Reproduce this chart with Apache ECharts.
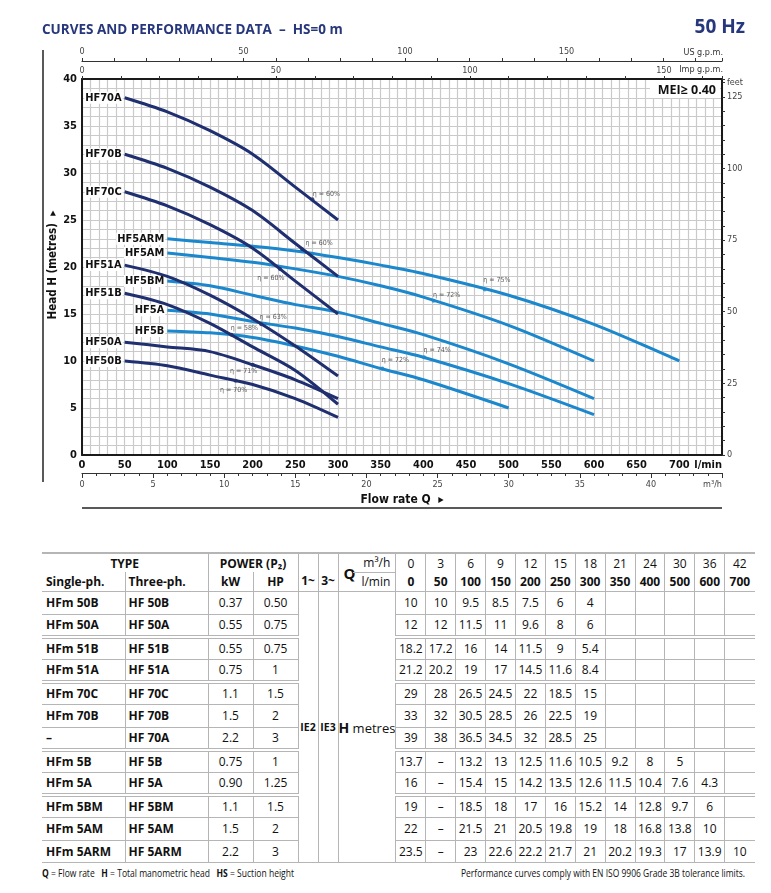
<!DOCTYPE html>
<html>
<head>
<meta charset="utf-8">
<script src="https://cdn.jsdelivr.net/npm/echarts@6/dist/echarts.min.js"></script>
<style>
html, body { margin: 0; padding: 0; background: #fff; }
body { width: 771px; height: 893px; position: relative; overflow: hidden; font-family: "Open Sans", sans-serif; color: #111; }
#chart { position: absolute; left: 0; top: 0; width: 771px; height: 530px; }
#perf { position: absolute; left: 42px; top: 552px; border-collapse: collapse; table-layout: fixed; font-size: 12px; }
#perf td { padding: 0; text-align: center; border: 1.5px solid #b5b5b5; white-space: nowrap; overflow: hidden; }
#perf tr.h1 { height: 19px; }
#perf tr.h2 { height: 19px; }
#perf tr.h1 td { border-top-width: 2px; }
#perf tr.h1 td.open { border-bottom-style: hidden; }
#perf tr.h2 td { border-top-style: hidden; }
#perf tbody tr { height: 22.6px; }
#perf tr.grp td { border-bottom: 4px double #b5b5b5; }
#perf td.first { border-left-style: hidden; text-align: left; padding-left: 4px; }
#perf td.center { text-align: center; padding-left: 0; }
#perf td.left { text-align: left; padding-left: 3px; }
#perf td.last { border-right-style: hidden; }
#perf .b { font-weight: bold; }
#perf td.ph { vertical-align: bottom; padding-bottom: 2px; font-weight: bold; }
#perf td.ie { font-weight: bold; font-size: 10.5px; }
#perf td.hm { font-size: 13px; }
#perf td.hm b { font-size: 14px; }
.qwrap { position: relative; height: 37px; }
.qQ { position: absolute; left: 5px; top: 9px; font-weight: bold; font-size: 15px; }
.qu { position: absolute; right: 5px; top: 0px; }
.ql { position: absolute; right: 5px; top: 19px; }
.qline { position: absolute; left: 14px; right: 0; top: 18px; border-top: 1.5px solid #b5b5b5; }
.foot { position: absolute; top: 866px; font-size: 10px; white-space: nowrap; transform-origin: left center; }
</style>
</head>
<body>
<div id="chart"></div>
<table id="perf"></table>
<div class="foot" id="footL"><b>Q</b> = Flow rate &nbsp; <b>H</b> = Total manometric head &nbsp; <b>HS</b> = Suction height</div>
<div class="foot" id="footR">Performance curves comply with EN ISO 9906 Grade 3B tolerance limits.</div>
<script>
// flow points of the table
var flowM3h = [0, 3, 6, 9, 12, 15, 18, 21, 24, 30, 36, 42]
var flowLmin = [0, 50, 100, 150, 200, 250, 300, 350, 400, 500, 600, 700]

var singlePh = ['HFm 50B', 'HFm 50A', 'HFm 51B', 'HFm 51A', 'HFm 70C', 'HFm 70B', '–', 'HFm 5B', 'HFm 5A', 'HFm 5BM', 'HFm 5AM', 'HFm 5ARM']
var threePh = ['HF 50B', 'HF 50A', 'HF 51B', 'HF 51A', 'HF 70C', 'HF 70B', 'HF 70A', 'HF 5B', 'HF 5A', 'HF 5BM', 'HF 5AM', 'HF 5ARM']
var powerKw = ['0.37', '0.55', '0.55', '0.75', '1.1', '1.5', '2.2', '0.75', '0.90', '1.1', '1.5', '2.2']
var powerHp = ['0.50', '0.75', '0.75', '1', '1.5', '2', '3', '1', '1.25', '1.5', '2', '3']
var family = ['50', '50', '51', '51', '70', '70', '70', '5', '5', '5', '5', '5']

// head (m) per model, one value per flow point, null = "–"
var headHF50B = [10, 10, 9.5, 8.5, 7.5, 6, 4]
var headHF50A = [12, 12, 11.5, 11, 9.6, 8, 6]
var headHF51B = [18.2, 17.2, 16, 14, 11.5, 9, 5.4]
var headHF51A = [21.2, 20.2, 19, 17, 14.5, 11.6, 8.4]
var headHF70C = [29, 28, 26.5, 24.5, 22, 18.5, 15]
var headHF70B = [33, 32, 30.5, 28.5, 26, 22.5, 19]
var headHF70A = [39, 38, 36.5, 34.5, 32, 28.5, 25]
var headHF5B = [13.7, null, 13.2, 13, 12.5, 11.6, 10.5, 9.2, 8, 5]
var headHF5A = [16, null, 15.4, 15, 14.2, 13.5, 12.6, 11.5, 10.4, 7.6, 4.3]
var headHF5BM = [19, null, 18.5, 18, 17, 16, 15.2, 14, 12.8, 9.7, 6]
var headHF5AM = [22, null, 21.5, 21, 20.5, 19.8, 19, 18, 16.8, 13.8, 10]
var headHF5ARM = [23.5, null, 23, 22.6, 22.2, 21.7, 21, 20.2, 19.3, 17, 13.9, 10]
var heads = [headHF50B, headHF50A, headHF51B, headHF51A, headHF70C, headHF70B, headHF70A,
  headHF5B, headHF5A, headHF5BM, headHF5AM, headHF5ARM]

// efficiency marks
var effModel = ['HF 70A', 'HF 70B', 'HF 70C', 'HF 51A', 'HF 51B', 'HF 50A', 'HF 50B', 'HF 5ARM', 'HF 5AM', 'HF 5A', 'HF 5B']
var effFlow = [270, 258, 232, 210, 175, 200, 180, 472, 412, 401, 352]
var effHead = [27.2, 21.9, 19.8, 13.9, 12.8, 9.6, 7.9, 17.6, 16.4, 10.4, 9.2]
var effValue = [60, 60, 60, 63, 58, 71, 70, 75, 72, 74, 72]
var effLabelOffset = [[14, -5], [17, -6], [-9, 9], [12, -7], [13, -6], [-9, 6], [-2, 9], [12, -9], [13, -6], [13, -7], [13, -8]]

var groupEnds = [1, 3, 6, 8]

var NAVY = '#1f2f6f'
var BLUE = '#1b87cd'
var NARROW = '"Liberation Sans Narrow","DejaVu Sans Condensed","Open Sans",sans-serif'
var LMIN_MAX = 750
var US_GPM = 3.785411784
var IMP_GPM = 4.54609
var M3H = 1000 / 60
var FT = 3.28084

function colorOf (model) {
  return family[threePh.indexOf(model)] === '5' ? BLUE : NAVY
}

// ---- chart ----
var series = []
var order = [7, 8, 9, 10, 11, 0, 1, 2, 3, 4, 5, 6]
order.forEach(function (m) {
  var name = threePh[m].replace(' ', '')
  var pts = []
  for (var i = 1; i < heads[m].length; i++) {
    if (heads[m][i] !== null) pts.push([flowLmin[i], heads[m][i]])
  }
  series.push({
    type: 'line',
    name: name,
    smooth: 0.3,
    symbol: 'circle',
    symbolSize: 0,
    showSymbol: true,
    lineStyle: { color: colorOf(threePh[m]), width: 3 },
    itemStyle: { color: colorOf(threePh[m]) },
    z: family[m] === '5' ? 3 : 4,
    data: pts.map(function (p, i) {
      if (i > 0) return p
      return {
        value: p,
        label: {
          show: true, position: 'left', distance: 2, formatter: name,
          fontFamily: NARROW, fontWeight: 'bold', fontSize: 11, color: '#111',
          backgroundColor: '#fff', padding: [1, 1, 0, 1]
        }
      }
    })
  })
})

series.push({
  type: 'scatter',
  symbol: 'circle',
  symbolSize: 4,
  z: 6,
  data: effModel.map(function (m, i) {
    return {
      value: [effFlow[i], effHead[i]],
      itemStyle: { color: colorOf(m) },
      label: {
        show: true, position: 'inside', offset: effLabelOffset[i],
        formatter: 'η = ' + effValue[i] + '%',
        fontFamily: NARROW, fontSize: 7, color: '#333'
      }
    }
  })
})

var gridLine = { color: '#cacaca', width: 1.2 }

var option = {
  animation: false,
  grid: { left: 82, top: 79, width: 640, height: 376, containLabel: false },
  xAxis: [
    {
      type: 'value', position: 'bottom', min: 0, max: LMIN_MAX, interval: 50,
      axisLine: { show: true, onZero: false, lineStyle: { color: '#1a1a1a', width: 2 } },
      axisTick: { show: false },
      axisLabel: {
        fontFamily: NARROW, fontWeight: 'bold', fontSize: 11, color: '#111', margin: 5,
        alignMaxLabel: 'right',
        formatter: function (v) { return v === LMIN_MAX ? 'l/min' : v }
      },
      splitLine: { show: true, lineStyle: gridLine },
      minorTick: { show: false, splitNumber: 5 },
      minorSplitLine: { show: true, lineStyle: gridLine }
    },
    {
      type: 'value', position: 'bottom', offset: 18, min: 0, max: LMIN_MAX / M3H, interval: 5,
      axisLine: { show: true, onZero: false, lineStyle: { color: '#333', width: 1.2 } },
      axisTick: { show: true, length: 5, lineStyle: { color: '#333' } },
      minorTick: { show: true, splitNumber: 5, length: 3, lineStyle: { color: '#333' } },
      axisLabel: {
        fontFamily: NARROW, fontSize: 9, color: '#444', margin: 7, alignMaxLabel: 'right',
        formatter: function (v) { return Math.round(v) === 45 ? 'm³/h' : v }
      },
      splitLine: { show: false }
    },
    {
      type: 'value', position: 'top', min: 0, max: LMIN_MAX / IMP_GPM, interval: 10,
      axisLine: { show: true, onZero: false, lineStyle: { color: '#1a1a1a', width: 2 } },
      axisTick: { show: true, length: 3, lineStyle: { color: '#333' } },
      axisLabel: {
        fontFamily: NARROW, fontSize: 9, color: '#444', margin: 4,
        formatter: function (v) { return v % 50 === 0 ? v : '' }
      },
      splitLine: { show: false }
    },
    {
      type: 'value', position: 'top', offset: 18, min: 0, max: LMIN_MAX / US_GPM, interval: 10,
      axisLine: { show: true, onZero: false, lineStyle: { color: '#333', width: 1.2 } },
      axisTick: { show: true, length: 3, lineStyle: { color: '#333' } },
      axisLabel: {
        fontFamily: NARROW, fontSize: 9, color: '#444', margin: 5,
        formatter: function (v) { return v % 50 === 0 ? v : '' }
      },
      splitLine: { show: false }
    }
  ],
  yAxis: [
    {
      type: 'value', position: 'left', min: 0, max: 40, interval: 5,
      axisLine: { show: true, onZero: false, lineStyle: { color: '#1a1a1a', width: 2 } },
      axisTick: { show: false },
      axisLabel: { fontFamily: NARROW, fontWeight: 'bold', fontSize: 11, color: '#111', margin: 5 },
      splitLine: { show: true, lineStyle: gridLine },
      minorTick: { show: false, splitNumber: 5 },
      minorSplitLine: { show: true, lineStyle: gridLine }
    },
    {
      type: 'value', position: 'right', min: 0, max: 40 * FT, interval: 5,
      axisLine: { show: true, onZero: false, lineStyle: { color: '#1a1a1a', width: 2 } },
      axisTick: { show: true, length: 3, lineStyle: { color: '#333' } },
      axisLabel: {
        fontFamily: NARROW, fontSize: 9, color: '#444', margin: 5,
        formatter: function (v) {
          if (v === 130) return 'feet'
          return v % 25 === 0 ? v : ''
        }
      },
      splitLine: { show: false }
    }
  ],
  graphic: [
    { type: 'text', x: 42, y: 30, z: 10, style: { text: 'CURVES AND PERFORMANCE DATA  –  HS=0 m', fontFamily: '"Open Sans",sans-serif', fontWeight: 'bold', fontSize: 13.5, fill: '#27377c', align: 'left', verticalAlign: 'middle' } },
    { type: 'text', x: 745, y: 28, z: 10, style: { text: '50 Hz', fontFamily: '"Open Sans",sans-serif', fontWeight: 'bold', fontSize: 19, fill: '#27377c', align: 'right', verticalAlign: 'middle' } },
    { type: 'text', x: 723, y: 53, z: 10, style: { text: 'US g.p.m.', fontFamily: NARROW, fontSize: 9, fill: '#333', align: 'right', verticalAlign: 'middle' } },
    { type: 'text', x: 723, y: 70, z: 10, style: { text: 'Imp g.p.m.', fontFamily: NARROW, fontSize: 9, fill: '#333', align: 'right', verticalAlign: 'middle' } },
    { type: 'rect', z: 10, shape: { x: 650, y: 80, width: 70, height: 18 }, style: { fill: '#fff' } },
    { type: 'text', x: 716, y: 90, z: 11, style: { text: 'MEI≥ 0.40', fontFamily: '"Open Sans",sans-serif', fontWeight: 'bold', fontSize: 12.5, fill: '#111', align: 'right', verticalAlign: 'middle' } },
    { type: 'line', z: 10, shape: { x1: 43, y1: 50, x2: 43, y2: 482 }, style: { stroke: '#222', lineWidth: 1.5 } },
    { type: 'line', z: 10, shape: { x1: 82, y1: 508, x2: 722, y2: 508 }, style: { stroke: '#222', lineWidth: 1.5 } },
    { type: 'text', x: 402, y: 500, z: 10, style: { text: 'Flow rate Q  ▸', fontFamily: NARROW, fontWeight: 'bold', fontSize: 12, fill: '#111', align: 'center', verticalAlign: 'middle' } },
    { type: 'text', x: 53, y: 265, z: 10, rotation: Math.PI / 2, style: { text: 'Head H (metres)  ▸', fontFamily: NARROW, fontWeight: 'bold', fontSize: 11.5, fill: '#111', align: 'center', verticalAlign: 'middle' } }
  ],
  series: series
}

var chart = echarts.init(document.getElementById('chart'))
chart.setOption(option)

// ---- table ----
var colW = [83, 83, 45, 45, 20, 20, 56]
var html = '<colgroup>'
colW.forEach(function (w) { html += '<col style="width:' + w + 'px">' })
flowLmin.forEach(function () { html += '<col style="width:29.9px">' })
html += '</colgroup><thead>'
html += '<tr class="h1"><td colspan="2" class="b open first center">TYPE</td><td colspan="2" class="b open">POWER (P₂)</td>'
html += '<td rowspan="2" class="ph">1~</td><td rowspan="2" class="ph">3~</td>'
html += '<td rowspan="2"><div class="qwrap"><span class="qQ">Q</span><div class="qu">m³/h</div><div class="ql">l/min</div><div class="qline"></div></div></td>'
flowM3h.forEach(function (q, i) {
  html += '<td class="open' + (i === flowM3h.length - 1 ? ' last' : '') + '">' + q + '</td>'
})
html += '</tr><tr class="h2"><td class="b first">Single-ph.</td><td class="b left">Three-ph.</td><td class="b">kW</td><td class="b">HP</td>'
flowLmin.forEach(function (q, i) {
  html += '<td class="b' + (i === flowLmin.length - 1 ? ' last' : '') + '">' + q + '</td>'
})
html += '</tr></thead><tbody>'
threePh.forEach(function (m, r) {
  html += '<tr' + (groupEnds.indexOf(r) >= 0 ? ' class="grp"' : '') + '>'
  html += '<td class="b first">' + singlePh[r] + '</td><td class="b left">' + m + '</td>'
  html += '<td>' + powerKw[r] + '</td><td>' + powerHp[r] + '</td>'
  if (r === 0) {
    html += '<td rowspan="12" class="ie">IE2</td><td rowspan="12" class="ie">IE3</td><td rowspan="12" class="hm"><b>H</b> metres</td>'
  }
  flowLmin.forEach(function (q, i) {
    var v = heads[r][i]
    var txt = v === undefined ? '' : (v === null ? '–' : String(v))
    html += '<td' + (i === flowLmin.length - 1 ? ' class="last"' : '') + '>' + txt + '</td>'
  })
  html += '</tr>'
})
html += '</tbody>'
document.getElementById('perf').innerHTML = html

// squeeze footnotes to the printed widths
function fit (id, left, width) {
  var el = document.getElementById(id)
  el.style.left = left + 'px'
  var w = el.getBoundingClientRect().width
  el.style.transform = 'scaleX(' + (width / w) + ')'
}
fit('footL', 42, 252)
fit('footR', 461, 284)
</script>
</body>
</html>
